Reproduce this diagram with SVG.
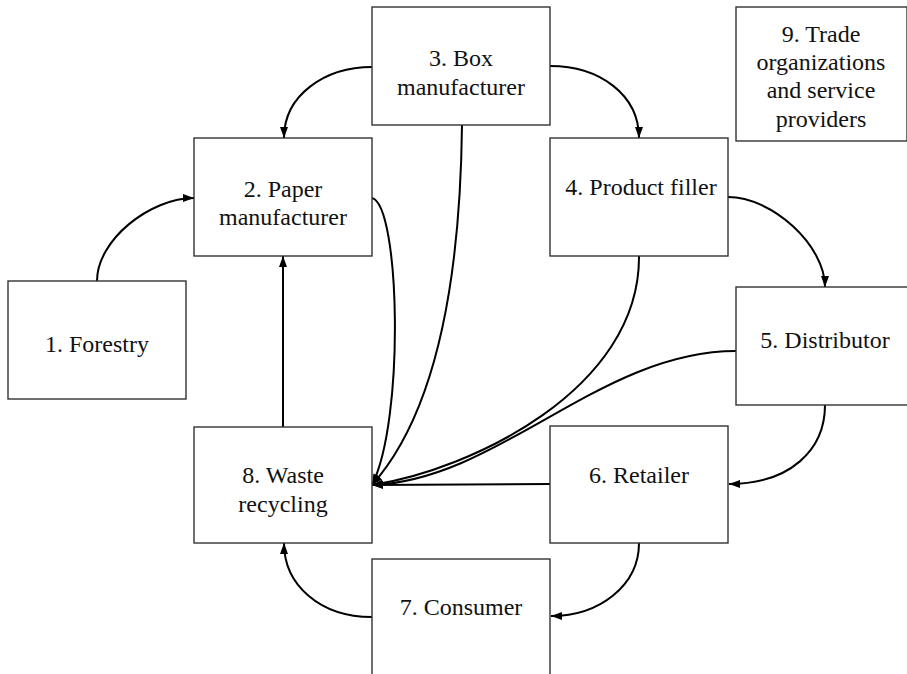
<svg xmlns="http://www.w3.org/2000/svg" width="907" height="674" viewBox="0 0 907 674">
  <defs>
    <marker id="arrow" markerUnits="userSpaceOnUse" markerWidth="12" markerHeight="10" refX="11" refY="4" orient="auto">
      <path d="M0,0 L11,4 L0,8 z" fill="#000"/>
    </marker>
  </defs>
  <style>
    .box { fill: #fff; stroke: #333; stroke-width: 1.4; }
    .label { font-size: 24px; fill: #111; text-anchor: middle; }
    .edge { fill: none; stroke: #000; stroke-width: 2; marker-end: url(#arrow); }
  </style>
  <rect width="907" height="674" fill="#fff"/>

  <!-- connectors -->
  <g id="connectors">
    <path class="edge" d="M97,281 C97,240 150,198 194,198"/>
    <path class="edge" d="M372,67 C325,67 284,95 284,138"/>
    <path class="edge" d="M550,66 C600,66 639,95 639,138"/>
    <path class="edge" d="M728,197 C772,197 825,245 825,287"/>
    <path class="edge" d="M825,405 C825,450 790,484 729,484"/>
    <path class="edge" d="M639,543 C639,585 600,616 551,616"/>
    <path class="edge" d="M372,617 C320,617 284,585 284,543"/>
    <path class="edge" d="M283,427 L283,256"/>
    <path class="edge" d="M372,198 C400,205 405,420 372,485"/>
    <path class="edge" d="M462,125 C460,300 430,420 372,485"/>
    <path class="edge" d="M639,256 C640,390 470,470 372,485"/>
    <path class="edge" d="M736,351 C600,351 500,480 372,485"/>
    <path class="edge" d="M550,484 L372,485"/>
  </g>

  <!-- nodes -->
  <g id="node-1">
    <rect class="box" x="8" y="281" width="178" height="118"/>
    <text class="label" style="font-family: 'Liberation Serif', serif" x="97" y="352">1. Forestry</text>
  </g>
  <g id="node-2">
    <rect class="box" x="194" y="138" width="178" height="118"/>
    <text class="label" style="font-family: 'Liberation Serif', serif" x="283" y="197">2. Paper</text>
    <text class="label" style="font-family: 'Liberation Serif', serif" x="283" y="225">manufacturer</text>
  </g>
  <g id="node-3">
    <rect class="box" x="372" y="7" width="178" height="118"/>
    <text class="label" style="font-family: 'Liberation Serif', serif" x="461" y="66">3. Box</text>
    <text class="label" style="font-family: 'Liberation Serif', serif" x="461" y="95">manufacturer</text>
  </g>
  <g id="node-4">
    <rect class="box" x="550" y="138" width="178" height="118"/>
    <text class="label" style="font-family: 'Liberation Serif', serif" x="641" y="195">4. Product filler</text>
  </g>
  <g id="node-5">
    <rect class="box" x="736" y="287" width="178" height="118"/>
    <text class="label" style="font-family: 'Liberation Serif', serif" x="825" y="348">5. Distributor</text>
  </g>
  <g id="node-6">
    <rect class="box" x="550" y="426" width="178" height="117"/>
    <text class="label" style="font-family: 'Liberation Serif', serif" x="639" y="483">6. Retailer</text>
  </g>
  <g id="node-7">
    <rect class="box" x="372" y="559" width="178" height="118"/>
    <text class="label" style="font-family: 'Liberation Serif', serif" x="461" y="615">7. Consumer</text>
  </g>
  <g id="node-8">
    <rect class="box" x="194" y="427" width="178" height="116"/>
    <text class="label" style="font-family: 'Liberation Serif', serif" x="283" y="483">8. Waste</text>
    <text class="label" style="font-family: 'Liberation Serif', serif" x="283" y="512">recycling</text>
  </g>
  <g id="node-9">
    <rect class="box" x="736" y="7" width="171" height="134"/>
    <text class="label" style="font-family: 'Liberation Serif', serif" x="821" y="42">9. Trade</text>
    <text class="label" style="font-family: 'Liberation Serif', serif" x="821" y="70">organizations</text>
    <text class="label" style="font-family: 'Liberation Serif', serif" x="821" y="98">and service</text>
    <text class="label" style="font-family: 'Liberation Serif', serif" x="821" y="127">providers</text>
  </g>
</svg>
